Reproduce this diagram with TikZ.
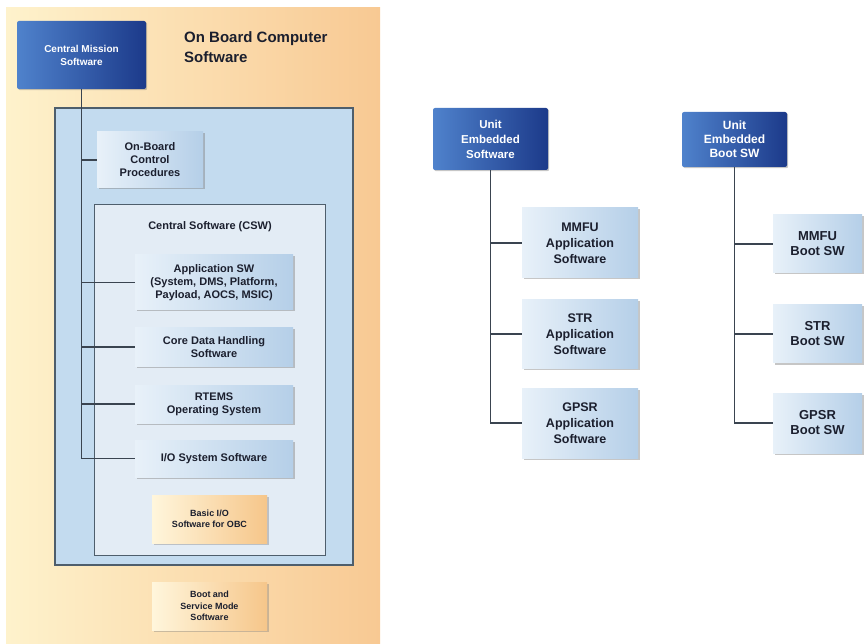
\documentclass[tikz,border=0pt]{standalone}
\usepackage{fontspec}
\setmainfont{Liberation Sans}
\usetikzlibrary{shadows}
\definecolor{warm-left}{HTML}{FEF2CC}
\definecolor{warm-right}{HTML}{F8C993}
\definecolor{panel-blue}{HTML}{C3DBEF}
\definecolor{panel-csw}{HTML}{E3ECF5}
\definecolor{frame-grey}{HTML}{4E5E6C}
\definecolor{head-light}{HTML}{4F82CC}
\definecolor{head-dark}{HTML}{1C3A8A}
\definecolor{box-light}{HTML}{E8F1F9}
\definecolor{box-mid}{HTML}{B5CFE8}
\definecolor{boxw-light}{HTML}{FFF6DC}
\definecolor{boxw-dark}{HTML}{F6C68A}
\definecolor{ink}{HTML}{1B1F2E}
\definecolor{link-grey}{HTML}{3A4450}

\begin{document}
\begin{tikzpicture}[x=1pt, y=-1pt,
    every node/.style={font=\bfseries, align=center, inner sep=1pt},
    headbox/.style={rounded corners=2pt, left color=head-light, right color=head-dark,
      text=white, drop shadow={shadow xshift=1.2pt, shadow yshift=-1.2pt, opacity=.45}},
    lightbox/.style={left color=box-light, right color=box-mid, text=ink,
      drop shadow={shadow xshift=1.5pt, shadow yshift=-1.5pt, opacity=.45}},
    warmbox/.style={left color=boxw-light, right color=boxw-dark, text=ink,
      drop shadow={shadow xshift=1.5pt, shadow yshift=-1.5pt, opacity=.4}},
    link/.style={draw=link-grey, line width=1.1pt}]
  \useasboundingbox (0,0) rectangle (865,644);

  % panels of the on-board computer
  \path[left color=warm-left, right color=warm-right] (6,8) rectangle (380,644);
  \draw[draw=frame-grey, line width=1.2pt, fill=panel-blue] (55,108) rectangle (353,565);
  \draw[draw=frame-grey, line width=1pt, fill=panel-csw] (94,205) rectangle (325,555);
  \node[text=ink, font=\bfseries\fontsize{11}{13}\selectfont] (csw) at (210,227) {Central Software (CSW)};
  \node[text=ink, anchor=north west, align=left,
    font=\bfseries\fontsize{15}{20}\selectfont] (obcsw) at (183,30) {On Board Computer\\Software};

  % left tree
  \node[headbox, minimum width=129, minimum height=68,
    font=\bfseries\fontsize{10}{13}\selectfont] (cms) at (81.5,55) {Central Mission\\Software};
  \node[lightbox, minimum width=106, minimum height=56,
    font=\bfseries\fontsize{11}{13}\selectfont] (ocp) at (150,160) {On-Board\\Control\\Procedures};
  \node[lightbox, minimum width=158, minimum height=55,
    font=\bfseries\fontsize{11}{13}\selectfont] (appsw) at (214,282.5) {Application SW\\(System, DMS, Platform,\\Payload, AOCS, MSIC)};
  \node[lightbox, minimum width=158, minimum height=38,
    font=\bfseries\fontsize{11}{13}\selectfont] (cdh) at (214,347) {Core Data Handling\\Software};
  \node[lightbox, minimum width=158, minimum height=38,
    font=\bfseries\fontsize{11}{13}\selectfont] (rtems) at (214,404) {RTEMS\\Operating System};
  \node[lightbox, minimum width=158, minimum height=37,
    font=\bfseries\fontsize{11}{13}\selectfont] (iosys) at (214,458.5) {I/O System Software};
  \node[warmbox, minimum width=115, minimum height=48,
    font=\bfseries\fontsize{9}{11.5}\selectfont] (bio) at (209.5,519) {Basic I/O\\Software for OBC};
  \node[warmbox, minimum width=115, minimum height=48,
    font=\bfseries\fontsize{9}{11.5}\selectfont] (boot) at (209.5,606) {Boot and\\Service Mode\\Software};

  \draw[link] (cms.south) |- (ocp.west);
  \draw[link] (cms.south) |- (appsw.west);
  \draw[link] (cms.south) |- (cdh.west);
  \draw[link] (cms.south) |- (rtems.west);
  \draw[link] (cms.south) |- (iosys.west);

  % unit embedded software
  \node[headbox, minimum width=115, minimum height=62,
    font=\bfseries\fontsize{11.5}{15}\selectfont] (ues) at (490.5,139) {Unit\\Embedded\\Software};
  \node[lightbox, minimum width=116, minimum height=70,
    font=\bfseries\fontsize{12.5}{16}\selectfont] (mmfuapp) at (580,243) {MMFU\\Application\\Software};
  \node[lightbox, minimum width=116, minimum height=68,
    font=\bfseries\fontsize{12.5}{16}\selectfont] (strapp) at (580,334) {STR\\Application\\Software};
  \node[lightbox, minimum width=116, minimum height=70,
    font=\bfseries\fontsize{12.5}{16}\selectfont] (gpsrapp) at (580,423) {GPSR\\Application\\Software};

  \draw[link] (ues.south) |- (mmfuapp.west);
  \draw[link] (ues.south) |- (strapp.west);
  \draw[link] (ues.south) |- (gpsrapp.west);

  % unit embedded boot software
  \node[headbox, minimum width=105, minimum height=55,
    font=\bfseries\fontsize{12}{14}\selectfont] (uebs) at (734.5,139.5) {Unit\\Embedded\\Boot SW};
  \node[lightbox, minimum width=89, minimum height=58,
    font=\bfseries\fontsize{13}{15}\selectfont] (mmfuboot) at (817.5,244) {MMFU\\Boot SW};
  \node[lightbox, minimum width=89, minimum height=58,
    font=\bfseries\fontsize{13}{15}\selectfont] (strboot) at (817.5,334) {STR\\Boot SW};
  \node[lightbox, minimum width=89, minimum height=60,
    font=\bfseries\fontsize{13}{15}\selectfont] (gpsrboot) at (817.5,423) {GPSR\\Boot SW};

  \draw[link] (uebs.south) |- (mmfuboot.west);
  \draw[link] (uebs.south) |- (strboot.west);
  \draw[link] (uebs.south) |- (gpsrboot.west);
\end{tikzpicture}
\end{document}
